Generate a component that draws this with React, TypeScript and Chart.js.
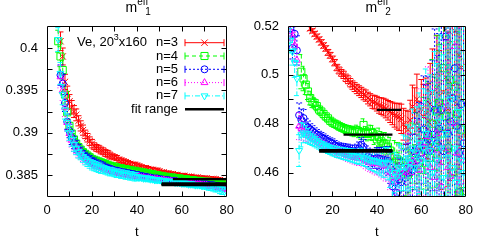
import React, { useEffect, useRef } from "react";
import { Chart, registerables } from "chart.js";
Chart.register(...registerables);

const FONT = "'Liberation Sans', Arial, Helvetica, sans-serif";

// ---------- axes ----------
const T_LABELS = [0, 20, 40, 60, 80];
const T_TICKS = [10, 20, 30, 40, 50, 60, 70];
const L_Y_LABELS = [0.385, 0.39, 0.395, 0.4];
const L_Y_TICKS = [0.385, 0.3875, 0.39, 0.3925, 0.395, 0.3975, 0.4];
const R_Y_LABELS = [0.46, 0.48, 0.5, 0.52];
const R_Y_TICKS = [0.46, 0.47, 0.48, 0.49, 0.5, 0.51];
const L_Y_RANGE = [0.3824, 0.4026];
const R_Y_RANGE = [0.45, 0.52];

// ---------- legend ----------
const KEY_TITLE = ["Ve, 20", "3", "x160"];
const LEGEND_LABELS = ["n=3", "n=4", "n=5", "n=6", "n=7"];
const FIT_LABEL = "fit range";
const TITLE_SUBS = ["1", "2"];

// ---------- left panel: m_eff_1 ----------
const L_N3_T0 = 6;
const L_N3 = [
  0.4008, 0.3990, 0.3960, 0.3946, 0.3937, 0.3930, 0.3925, 0.3921, 0.3914, 0.3908,
  0.3903, 0.3898, 0.3894, 0.3890, 0.3887, 0.3884, 0.3882, 0.3881, 0.3879, 0.3878,
  0.3876, 0.3875, 0.3873, 0.3872, 0.3871, 0.3870, 0.3868, 0.3867, 0.3866, 0.3865,
  0.3864, 0.3863, 0.3862, 0.3862, 0.3861, 0.3860, 0.3859, 0.3858, 0.3858, 0.3857,
  0.3856, 0.3856, 0.3855, 0.3855, 0.3854, 0.3853, 0.3853, 0.3852, 0.3852, 0.3851,
  0.3851, 0.3850, 0.3850, 0.3849, 0.3849, 0.3849, 0.3848, 0.3848, 0.3848, 0.3847,
  0.3847, 0.3847, 0.3846, 0.3846, 0.3846, 0.3846, 0.3845, 0.3845, 0.3845, 0.3845,
  0.3844, 0.3844, 0.3843, 0.3842,
];
const L_N3_ERR = [
  0.0011, 0.0010, 0.0009, 0.0009, 0.0008, 0.0008, 0.0007, 0.0007, 0.0006, 0.0006,
  0.0006, 0.0005, 0.0005, 0.0005, 0.0005, 0.0004, 0.0004, 0.0004, 0.0004, 0.0004,
  0.0004, 0.0004, 0.0004, 0.0003, 0.0003, 0.0003, 0.0003, 0.0003, 0.0003, 0.0003,
  0.0003, 0.0003, 0.0003, 0.0003, 0.0003, 0.0003, 0.0003, 0.0003, 0.0003, 0.0003,
  0.0003, 0.0003, 0.0003, 0.0003, 0.0003, 0.00025, 0.00025, 0.00025, 0.00025, 0.00025,
  0.00025, 0.00025, 0.00025, 0.00025, 0.00025, 0.00025, 0.00025, 0.00025, 0.00025, 0.00025,
  0.00025, 0.00025, 0.00025, 0.00025, 0.00025, 0.00025, 0.00025, 0.00025, 0.00025, 0.00025,
  0.00025, 0.00025, 0.00025, 0.00025,
];
const L_N4_T0 = 5;
const L_N4 = [
  0.4008, 0.3990, 0.3974, 0.3945, 0.3924, 0.3908, 0.3899, 0.3892, 0.3887, 0.3883,
  0.3880, 0.3877, 0.3875, 0.3873, 0.3871, 0.3869, 0.3868, 0.3867, 0.3866, 0.3865,
  0.3864, 0.3863, 0.3862, 0.3861, 0.3860, 0.3860, 0.3859, 0.3858, 0.3858, 0.3857,
  0.3857, 0.3856, 0.3856, 0.3855, 0.3855, 0.3854, 0.3854, 0.3853, 0.3853, 0.3852,
  0.3852, 0.3851, 0.3851, 0.3850, 0.3850, 0.3849, 0.3849, 0.3848, 0.3848, 0.3847,
  0.3847, 0.3847, 0.3846, 0.3846, 0.3846, 0.3845, 0.3845, 0.3845, 0.3844, 0.3844,
  0.3844, 0.3843, 0.3843, 0.3843, 0.3842, 0.3842, 0.3842, 0.3842, 0.3841, 0.3841,
  0.3841, 0.3840, 0.3840, 0.3839, 0.3838,
];
const L_N4_ERR = [
  0.0013, 0.0012, 0.0011, 0.0010, 0.0009, 0.0008, 0.0008, 0.0007, 0.0006, 0.0006,
  0.0005, 0.0005, 0.0005, 0.0005, 0.0005, 0.0005, 0.0004, 0.0004, 0.0004, 0.0004,
  0.0004, 0.0004, 0.0004, 0.0004, 0.0004, 0.0004, 0.0003, 0.0003, 0.0003, 0.0003,
  0.0003, 0.0003, 0.0003, 0.0003, 0.0003, 0.0003, 0.0003, 0.0003, 0.0003, 0.0003,
  0.0003, 0.0003, 0.0003, 0.0003, 0.0003, 0.0003, 0.0003, 0.0003, 0.0003, 0.0003,
  0.0003, 0.0003, 0.0003, 0.0003, 0.0003, 0.0003, 0.0003, 0.0003, 0.0003, 0.0003,
  0.0003, 0.0003, 0.0003, 0.0003, 0.0003, 0.0003, 0.0003, 0.0003, 0.0003, 0.0003,
  0.0003, 0.0003, 0.0003, 0.0003, 0.0003,
];
const L_N5_T0 = 6;
const L_N5 = [
  0.3968, 0.3958, 0.3935, 0.3913, 0.3902, 0.3894, 0.3888, 0.3884, 0.3880, 0.3877,
  0.3874, 0.3872, 0.3870, 0.3868, 0.3866, 0.3865, 0.3863, 0.3862, 0.3861, 0.3860,
  0.3859, 0.3858, 0.3857, 0.3856, 0.3855, 0.3855, 0.3854, 0.3853, 0.3853, 0.3852,
  0.3852, 0.3851, 0.3851, 0.3850, 0.3850, 0.3849, 0.3849, 0.3848, 0.3848, 0.3847,
  0.3847, 0.3846, 0.3846, 0.3846, 0.3845, 0.3845, 0.3844, 0.3844, 0.3844, 0.3843,
  0.3843, 0.3843, 0.3842, 0.3842, 0.3842, 0.3841, 0.3841, 0.3841, 0.3840, 0.3840,
  0.3840, 0.3840, 0.3839, 0.3839, 0.3839, 0.3839, 0.3838, 0.3838, 0.3838, 0.3837,
  0.3837, 0.3836, 0.3836, 0.3835,
];
const L_N5_ERR = [
  0.0012, 0.0011, 0.0010, 0.0009, 0.0008, 0.0008, 0.0007, 0.0007, 0.0006, 0.0006,
  0.0005, 0.0005, 0.0005, 0.0005, 0.0005, 0.0005, 0.0005, 0.0005, 0.0005, 0.0005,
  0.0004, 0.0004, 0.0004, 0.0004, 0.0004, 0.0004, 0.0004, 0.0004, 0.0004, 0.0004,
  0.0004, 0.0004, 0.0004, 0.0004, 0.0004, 0.0003, 0.0003, 0.0003, 0.0003, 0.0003,
  0.0003, 0.0003, 0.0003, 0.0003, 0.0003, 0.0003, 0.0003, 0.0003, 0.0003, 0.0003,
  0.0003, 0.0003, 0.0003, 0.0003, 0.0003, 0.0003, 0.0003, 0.0003, 0.0003, 0.0003,
  0.0003, 0.0003, 0.0003, 0.0003, 0.0003, 0.0003, 0.0003, 0.0003, 0.0003, 0.0003,
  0.0003, 0.0003, 0.0003, 0.0003,
];
const L_N6_T0 = 6;
const L_N6 = [
  0.3966, 0.3950, 0.3930, 0.3912, 0.3899, 0.3891, 0.3886, 0.3882, 0.3878, 0.3875,
  0.3872, 0.3869, 0.3867, 0.3865, 0.3863, 0.3862, 0.3861, 0.3860, 0.3859, 0.3858,
  0.3857, 0.3856, 0.3855, 0.3855, 0.3854, 0.3853, 0.3853, 0.3852, 0.3851, 0.3851,
  0.3850, 0.3850, 0.3849, 0.3849, 0.3848, 0.3848, 0.3847, 0.3847, 0.3846, 0.3846,
  0.3846, 0.3845, 0.3845, 0.3845, 0.3844, 0.3844, 0.3844, 0.3843, 0.3843, 0.3843,
  0.3842, 0.3842, 0.3842, 0.3841, 0.3841, 0.3841, 0.3840, 0.3840, 0.3840, 0.3839,
  0.3839, 0.3839, 0.3839, 0.3838, 0.3838, 0.3838, 0.3837, 0.3837, 0.3837, 0.3836,
  0.3836, 0.3835, 0.3835, 0.3834,
];
const L_N6_ERR = [
  0.0013, 0.0012, 0.0011, 0.0010, 0.0009, 0.0008, 0.0008, 0.0007, 0.0007, 0.0006,
  0.0006, 0.0005, 0.0005, 0.0005, 0.0005, 0.0005, 0.0005, 0.0005, 0.0005, 0.0005,
  0.0004, 0.0004, 0.0004, 0.0004, 0.0004, 0.0004, 0.0004, 0.0004, 0.0004, 0.0004,
  0.0004, 0.0004, 0.0004, 0.0004, 0.0004, 0.0004, 0.0003, 0.0003, 0.0003, 0.0003,
  0.0003, 0.0003, 0.0003, 0.0003, 0.0003, 0.0003, 0.0003, 0.0003, 0.0003, 0.0003,
  0.0003, 0.0003, 0.0003, 0.0003, 0.0003, 0.0003, 0.0003, 0.0003, 0.0003, 0.0003,
  0.0003, 0.0003, 0.0003, 0.0003, 0.0003, 0.0003, 0.0003, 0.0003, 0.0003, 0.0004,
  0.0004, 0.0004, 0.0004, 0.0004,
];
const L_N7_T0 = 5;
const L_N7 = [
  0.4010, 0.3970, 0.3945, 0.3927, 0.3912, 0.3900, 0.3892, 0.3886, 0.3881, 0.3877,
  0.3874, 0.3871, 0.3868, 0.3866, 0.3864, 0.3862, 0.3861, 0.3860, 0.3859, 0.3858,
  0.3857, 0.3856, 0.3855, 0.3854, 0.3854, 0.3853, 0.3852, 0.3852, 0.3851, 0.3851,
  0.3850, 0.3850, 0.3849, 0.3849, 0.3848, 0.3848, 0.3847, 0.3847, 0.3846, 0.3846,
  0.3846, 0.3845, 0.3845, 0.3844, 0.3844, 0.3844, 0.3843, 0.3843, 0.3843, 0.3842,
  0.3842, 0.3842, 0.3841, 0.3841, 0.3841, 0.3840, 0.3840, 0.3840, 0.3839, 0.3839,
  0.3839, 0.3838, 0.3838, 0.3838, 0.3837, 0.3837, 0.3837, 0.3836, 0.3836, 0.3836,
  0.3835, 0.3835, 0.3834, 0.3833, 0.3831,
];
const L_N7_ERR = [
  0.0014, 0.0013, 0.0012, 0.0011, 0.0010, 0.0009, 0.0008, 0.0008, 0.0007, 0.0007,
  0.0006, 0.0006, 0.0006, 0.0006, 0.0006, 0.0006, 0.0006, 0.0006, 0.0006, 0.0006,
  0.0005, 0.0005, 0.0005, 0.0005, 0.0005, 0.0005, 0.0005, 0.0005, 0.0005, 0.0005,
  0.0005, 0.0005, 0.0005, 0.0005, 0.0005, 0.0005, 0.0003, 0.0003, 0.0003, 0.0003,
  0.0003, 0.0003, 0.0003, 0.0003, 0.0003, 0.0003, 0.0003, 0.0003, 0.0003, 0.0003,
  0.0003, 0.0003, 0.0003, 0.0003, 0.0003, 0.0003, 0.0003, 0.0003, 0.0003, 0.0003,
  0.0003, 0.0003, 0.0003, 0.0003, 0.0003, 0.0003, 0.0004, 0.0004, 0.0004, 0.0005,
  0.0005, 0.0005, 0.0006, 0.0006, 0.0007,
];
const L_FITS = [
  { t1: 56, t2: 80, v: 0.3845 },
  { t1: 51, t2: 80, v: 0.3840 },
  { t1: 51, t2: 80, v: 0.3839 },
  { t1: 51, t2: 80, v: 0.3839 },
  { t1: 51, t2: 80, v: 0.3838 },
];

// ---------- right panel: m_eff_2 ----------
const R_N3_T0 = 10;
const R_N3 = [
  0.5190, 0.5180, 0.5168, 0.5157, 0.5145, 0.5133, 0.5120, 0.5108, 0.5092, 0.5080,
  0.5065, 0.5050, 0.5030, 0.5018, 0.5008, 0.5000, 0.4988, 0.4980, 0.4968, 0.4958,
  0.4950, 0.4942, 0.4935, 0.4928, 0.4920, 0.4915, 0.4905, 0.4898, 0.4890, 0.4888,
  0.4882, 0.4875, 0.4872, 0.4868, 0.4862, 0.4855, 0.4848, 0.4842, 0.4835, 0.4830,
  0.4828, 0.4820, 0.4798, 0.4785, 0.4776, 0.4815, 0.4870, 0.4852, 0.4900, 0.4780,
  0.4860, 0.4830, 0.4845, 0.4810, 0.4880, 0.4925, 0.4805, 0.4950, 0.4870, 0.4780,
  0.4930, 0.4990, 0.4860, 0.4910, 0.4960, 0.5180, 0.4880, 0.5080, 0.5030, 0.4750,
];
const R_N3_ERR = [
  0.0009, 0.0009, 0.0010, 0.0010, 0.0010, 0.0011, 0.0011, 0.0011, 0.0012, 0.0012,
  0.0012, 0.0013, 0.0013, 0.0014, 0.0014, 0.0015, 0.0015, 0.0016, 0.0017, 0.0017,
  0.0018, 0.0019, 0.0020, 0.0021, 0.0022, 0.0023, 0.0024, 0.0025, 0.0027, 0.0028,
  0.0030, 0.0032, 0.0034, 0.0036, 0.0038, 0.0040, 0.0043, 0.0046, 0.0049, 0.0052,
  0.0056, 0.0060, 0.0065, 0.0070, 0.0075, 0.0081, 0.0088, 0.0095, 0.0103, 0.0112,
  0.0121, 0.0131, 0.0142, 0.0154, 0.0167, 0.0181, 0.0196, 0.0212, 0.0230, 0.0249,
  0.0270, 0.0292, 0.0316, 0.0342, 0.0370, 0.0400, 0.0433, 0.0468, 0.0506, 0.0547,
];
const R_N4_T0 = 6;
const R_N4 = [
  0.5013, 0.4985, 0.4960, 0.4932, 0.4905, 0.4890, 0.4885, 0.4872, 0.4858, 0.4850,
  0.4840, 0.4830, 0.4822, 0.4812, 0.4805, 0.4800, 0.4796, 0.4790, 0.4786, 0.4782,
  0.4778, 0.4776, 0.4773, 0.4770, 0.4768, 0.4772, 0.4766, 0.4760, 0.4795, 0.4762,
  0.4758, 0.4765, 0.4762, 0.4748, 0.4736, 0.4745, 0.4728, 0.4720, 0.4718, 0.4706,
  0.4690, 0.4632, 0.4668, 0.4655, 0.4648, 0.4640, 0.4612, 0.4600, 0.4592, 0.4630,
  0.4680, 0.4665, 0.4700, 0.4640, 0.4610, 0.4720, 0.4690, 0.4750, 0.4660, 0.4800,
  0.4705, 0.4850, 0.4886, 0.4760, 0.5027, 0.4830, 0.4700, 0.4980, 0.4600, 0.4952,
  0.4840, 0.4518, 0.4776, 0.4524,
];
const R_N4_ERR = [
  0.0070, 0.0050, 0.0040, 0.0033, 0.0028, 0.0024, 0.0021, 0.0019, 0.0018, 0.0017,
  0.0016, 0.0015, 0.0015, 0.0015, 0.0015, 0.0015, 0.0016, 0.0016, 0.0017, 0.0017,
  0.0018, 0.0018, 0.0019, 0.0020, 0.0021, 0.0022, 0.0023, 0.0024, 0.0025, 0.0026,
  0.0028, 0.0029, 0.0031, 0.0033, 0.0035, 0.0037, 0.0040, 0.0043, 0.0046, 0.0050,
  0.0054, 0.0058, 0.0063, 0.0068, 0.0074, 0.0080, 0.0087, 0.0095, 0.0104, 0.0113,
  0.0123, 0.0134, 0.0146, 0.0159, 0.0173, 0.0188, 0.0205, 0.0223, 0.0242, 0.0263,
  0.0286, 0.0310, 0.0336, 0.0364, 0.0394, 0.0426, 0.0460, 0.0497, 0.0536, 0.0578,
  0.0620, 0.0660, 0.0700, 0.0750,
];
const R_N5_T0 = 1;
const R_N5 = [
  0.5190, 0.5110, 0.5168, 0.5100, 0.4835, 0.4816, 0.4823, 0.4790, 0.4785, 0.4776,
  0.4770, 0.4762, 0.4756, 0.4750, 0.4745, 0.4740, 0.4734, 0.4728, 0.4724, 0.4720,
  0.4712, 0.4706, 0.4702, 0.4700, 0.4698, 0.4695, 0.4694, 0.4690, 0.4688, 0.4686,
  0.4690, 0.4698, 0.4715, 0.4705, 0.4678, 0.4667, 0.4660, 0.4654, 0.4656, 0.4660,
  0.4658, 0.4655, 0.4652, 0.4650, 0.4648, 0.4620, 0.4544, 0.4560, 0.4517, 0.4571,
  0.4560, 0.4590, 0.4605, 0.4598, 0.4625, 0.4612, 0.4687, 0.4650, 0.4700, 0.4680,
  0.4776, 0.4720, 0.4735, 0.4690, 0.4755, 0.4857, 0.4720, 0.4780, 0.4857, 0.4687,
  0.5157, 0.4760, 0.4810, 0.4905, 0.5027, 0.4790, 0.4680, 0.4880, 0.4720,
];
const R_N5_ERR = [
  0.0040, 0.0045, 0.0050, 0.0060, 0.0050, 0.0045, 0.0035, 0.0030, 0.0026, 0.0024,
  0.0022, 0.0021, 0.0020, 0.0019, 0.0019, 0.0018, 0.0018, 0.0018, 0.0018, 0.0018,
  0.0019, 0.0019, 0.0020, 0.0020, 0.0021, 0.0022, 0.0022, 0.0023, 0.0024, 0.0025,
  0.0026, 0.0027, 0.0028, 0.0030, 0.0031, 0.0033, 0.0035, 0.0037, 0.0039, 0.0042,
  0.0045, 0.0048, 0.0051, 0.0055, 0.0059, 0.0064, 0.0069, 0.0075, 0.0081, 0.0088,
  0.0095, 0.0103, 0.0112, 0.0122, 0.0133, 0.0145, 0.0158, 0.0172, 0.0187, 0.0203,
  0.0220, 0.0239, 0.0259, 0.0281, 0.0305, 0.0331, 0.0359, 0.0389, 0.0421, 0.0456,
  0.0494, 0.0535, 0.0579, 0.0626, 0.0677, 0.0732, 0.0791, 0.0854, 0.0922,
];
const R_N6_T0 = 1;
const R_N6 = [
  0.5178, 0.5150, 0.5120, 0.5060, 0.4790, 0.4782, 0.4770, 0.4760, 0.4752, 0.4746,
  0.4740, 0.4736, 0.4730, 0.4724, 0.4718, 0.4712, 0.4706, 0.4700, 0.4697, 0.4694,
  0.4690, 0.4686, 0.4682, 0.4680, 0.4678, 0.4674, 0.4670, 0.4668, 0.4665, 0.4662,
  0.4660, 0.4658, 0.4662, 0.4656, 0.4650, 0.4646, 0.4642, 0.4640, 0.4638, 0.4636,
  0.4640, 0.4634, 0.4630, 0.4626, 0.4630, 0.4600, 0.4560, 0.4590, 0.4580, 0.4620,
  0.4600, 0.4585, 0.4610, 0.4626, 0.4600, 0.4650, 0.4640, 0.4687, 0.4610, 0.4720,
  0.4660, 0.4700, 0.4748, 0.4620, 0.4690, 0.4580, 0.4760, 0.4640, 0.4544, 0.4700,
  0.4871, 0.4620, 0.4585, 0.4800, 0.5116, 0.4680, 0.4560, 0.5225, 0.4650,
];
const R_N6_ERR = [
  0.0045, 0.0050, 0.0055, 0.0065, 0.0055, 0.0048, 0.0038, 0.0032, 0.0028, 0.0026,
  0.0024, 0.0023, 0.0022, 0.0021, 0.0020, 0.0020, 0.0019, 0.0019, 0.0019, 0.0020,
  0.0020, 0.0021, 0.0021, 0.0022, 0.0023, 0.0023, 0.0024, 0.0025, 0.0026, 0.0027,
  0.0028, 0.0029, 0.0031, 0.0032, 0.0034, 0.0036, 0.0038, 0.0040, 0.0043, 0.0046,
  0.0049, 0.0052, 0.0056, 0.0060, 0.0065, 0.0070, 0.0076, 0.0082, 0.0089, 0.0096,
  0.0104, 0.0113, 0.0123, 0.0134, 0.0146, 0.0159, 0.0173, 0.0188, 0.0205, 0.0223,
  0.0242, 0.0263, 0.0285, 0.0309, 0.0335, 0.0364, 0.0395, 0.0428, 0.0463, 0.0501,
  0.0543, 0.0588, 0.0637, 0.0689, 0.0745, 0.0805, 0.0870, 0.0940, 0.1014,
];
const R_N7_T0 = 1;
const R_N7 = [
  0.5140, 0.5095, 0.5050, 0.4985, 0.4690, 0.4755, 0.4762, 0.4758, 0.4750, 0.4742,
  0.4736, 0.4730, 0.4724, 0.4718, 0.4712, 0.4706, 0.4702, 0.4698, 0.4694, 0.4690,
  0.4688, 0.4684, 0.4682, 0.4680, 0.4678, 0.4676, 0.4674, 0.4672, 0.4670, 0.4668,
  0.4666, 0.4664, 0.4668, 0.4662, 0.4660, 0.4656, 0.4652, 0.4650, 0.4648, 0.4646,
  0.4644, 0.4640, 0.4638, 0.4642, 0.4636, 0.4610, 0.4570, 0.4600, 0.4585, 0.4620,
  0.4605, 0.4640, 0.4625, 0.4660, 0.4640, 0.4700, 0.4620, 0.4680, 0.4720, 0.4650,
  0.4700, 0.4760, 0.4640, 0.4690, 0.4600, 0.4730, 0.4650, 0.4810, 0.4700, 0.4580,
  0.4760, 0.4660, 0.4900, 0.4620, 0.4700, 0.4560, 0.4850, 0.4650, 0.4600,
];
const R_N7_ERR = [
  0.0050, 0.0055, 0.0060, 0.0070, 0.0065, 0.0050, 0.0040, 0.0034, 0.0030, 0.0027,
  0.0025, 0.0024, 0.0023, 0.0022, 0.0021, 0.0021, 0.0020, 0.0020, 0.0020, 0.0021,
  0.0021, 0.0022, 0.0022, 0.0023, 0.0024, 0.0024, 0.0025, 0.0026, 0.0027, 0.0028,
  0.0029, 0.0030, 0.0032, 0.0033, 0.0035, 0.0037, 0.0039, 0.0041, 0.0044, 0.0047,
  0.0050, 0.0053, 0.0057, 0.0061, 0.0066, 0.0071, 0.0077, 0.0083, 0.0090, 0.0097,
  0.0105, 0.0114, 0.0124, 0.0135, 0.0147, 0.0160, 0.0174, 0.0189, 0.0206, 0.0224,
  0.0243, 0.0264, 0.0286, 0.0310, 0.0336, 0.0365, 0.0396, 0.0429, 0.0464, 0.0502,
  0.0544, 0.0589, 0.0638, 0.0690, 0.0746, 0.0806, 0.0871, 0.0941, 0.1015,
];
const R_FITS = [
  { t1: 40, t2: 51, v: 0.4857 },
  { t1: 25, t2: 47, v: 0.4755 },
  { t1: 14, t2: 47, v: 0.4692 },
  { t1: 14, t2: 47, v: 0.4686 },
  { t1: 15, t2: 47, v: 0.4689 },
];

// ---------- styles ----------
const STYLES = [
  { color: "#ff0000", point: "crossRot", radius: 4.5, rot: 0, dash: [] as number[] },
  { color: "#00ff00", point: "rect", radius: 5, rot: 0, dash: [4, 3] },
  { color: "#0000ff", point: "circle", radius: 3.5, rot: 0, dash: [2, 2] },
  { color: "#ff00ff", point: "triangle", radius: 4, rot: 0, dash: [1, 2] },
  { color: "#00ffff", point: "triangle", radius: 4, rot: 180, dash: [5, 2, 1, 2] },
];

function drawMarker(ctx: CanvasRenderingContext2D, st: any, x: number, y: number) {
  ctx.save();
  ctx.strokeStyle = st.color;
  ctx.lineWidth = 1;
  ctx.setLineDash([]);
  ctx.beginPath();
  const r = st.radius;
  if (st.point === "crossRot") {
    const o = r * Math.SQRT1_2;
    ctx.moveTo(x - o, y - o); ctx.lineTo(x + o, y + o);
    ctx.moveTo(x + o, y - o); ctx.lineTo(x - o, y + o);
  } else if (st.point === "rect") {
    const s = r * Math.SQRT1_2;
    ctx.rect(x - s, y - s, 2 * s, 2 * s);
  } else if (st.point === "circle") {
    ctx.arc(x, y, r, 0, Math.PI * 2);
  } else {
    let rad = (st.rot * Math.PI) / 180;
    for (let k = 0; k < 3; k++) {
      const px = x + Math.sin(rad) * r, py = y - Math.cos(rad) * r;
      if (k === 0) ctx.moveTo(px, py); else ctx.lineTo(px, py);
      rad += (2 * Math.PI) / 3;
    }
    ctx.closePath();
  }
  ctx.stroke();
  ctx.restore();
}

const errorBarPlugin = {
  id: "errbars",
  beforeDatasetDraw(chart: any, args: any) {
    const ds: any = chart.data.datasets[args.index];
    if (!ds.errs) return;
    const { ctx, chartArea: a } = chart;
    const ys = chart.scales.y;
    ctx.save();
    ctx.beginPath();
    ctx.rect(a.left, a.top, a.right - a.left, a.bottom - a.top);
    ctx.clip();
    ctx.strokeStyle = ds.borderColor;
    ctx.lineWidth = 1;
    ctx.setLineDash(ds.errDash);
    args.meta.data.forEach((el: any, i: number) => {
      const e = ds.errs[i];
      if (e == null) return;
      const v = ds.data[i].y;
      const x = el.x;
      const y1 = ys.getPixelForValue(v + e);
      const y2 = ys.getPixelForValue(v - e);
      ctx.beginPath();
      ctx.moveTo(x, y1); ctx.lineTo(x, y2);
      ctx.moveTo(x - 3, y1); ctx.lineTo(x + 3, y1);
      ctx.moveTo(x - 3, y2); ctx.lineTo(x + 3, y2);
      ctx.stroke();
    });
    ctx.restore();
  },
};

function drawLegend(ctx: CanvasRenderingContext2D) {
  const rowY = (i: number) => 42.7 + 13.3 * i;
  ctx.fillStyle = "#000";
  ctx.textBaseline = "middle";
  ctx.textAlign = "left";
  let x = 77;
  const y0 = rowY(0);
  ctx.font = `13px ${FONT}`;
  ctx.fillText(KEY_TITLE[0], x, y0);
  x += ctx.measureText(KEY_TITLE[0]).width;
  ctx.font = `9px ${FONT}`;
  ctx.fillText(KEY_TITLE[1], x, y0 - 5);
  x += ctx.measureText(KEY_TITLE[1]).width;
  ctx.font = `13px ${FONT}`;
  ctx.fillText(KEY_TITLE[2], x, y0);

  const labels = [...LEGEND_LABELS, FIT_LABEL];
  const x1 = 185, x2 = 224;
  labels.forEach((lab, i) => {
    const y = rowY(i);
    ctx.font = `13px ${FONT}`;
    ctx.textAlign = "right";
    ctx.fillStyle = "#000";
    ctx.fillText(lab, 178, y);
    if (i < STYLES.length) {
      const st = STYLES[i];
      ctx.save();
      ctx.strokeStyle = st.color;
      ctx.lineWidth = 1;
      ctx.setLineDash(st.dash);
      ctx.beginPath();
      ctx.moveTo(x1, y); ctx.lineTo(x2, y);
      ctx.stroke();
      ctx.setLineDash([]);
      ctx.beginPath();
      ctx.moveTo(x1, y - 3.5); ctx.lineTo(x1, y + 3.5);
      ctx.moveTo(x2, y - 3.5); ctx.lineTo(x2, y + 3.5);
      ctx.stroke();
      ctx.restore();
      drawMarker(ctx, st, (x1 + x2) / 2, y);
    } else {
      ctx.save();
      ctx.strokeStyle = "#000";
      ctx.lineWidth = 2.5;
      ctx.beginPath();
      ctx.moveTo(x1, y); ctx.lineTo(x2, y);
      ctx.stroke();
      ctx.restore();
    }
  });
}

const decorPlugin = {
  id: "decor",
  afterDraw(chart: any, _args: any, opts: any) {
    const { ctx, chartArea: a } = chart;
    const xs = chart.scales.x, ys = chart.scales.y;
    ctx.save();
    const L = Math.round(a.left) + 0.5, R = Math.round(a.right) - 0.5;
    const T = Math.round(a.top) + 0.5, B = Math.round(a.bottom) - 0.5;
    ctx.strokeStyle = "#000";
    ctx.lineWidth = 1;
    ctx.setLineDash([]);
    ctx.beginPath();
    ctx.rect(L, T, R - L, B - T);
    for (const t of T_TICKS) {
      const px = Math.round(xs.getPixelForValue(t)) + 0.5;
      ctx.moveTo(px, B); ctx.lineTo(px, B - 5);
      ctx.moveTo(px, T); ctx.lineTo(px, T + 5);
    }
    for (const v of opts.yTicks) {
      const py = Math.round(ys.getPixelForValue(v)) + 0.5;
      ctx.moveTo(L, py); ctx.lineTo(L + 5, py);
      ctx.moveTo(R, py); ctx.lineTo(R - 5, py);
    }
    ctx.stroke();

    // title m^eff_n
    const cx = (a.left + a.right) / 2;
    ctx.fillStyle = "#000";
    ctx.textBaseline = "alphabetic";
    ctx.textAlign = "left";
    ctx.font = `14px ${FONT}`;
    const wm = ctx.measureText("m").width;
    ctx.font = `10px ${FONT}`;
    const we = ctx.measureText("eff").width;
    const tx = cx - (wm + we) / 2;
    ctx.font = `14px ${FONT}`;
    ctx.fillText("m", tx, 12);
    ctx.font = `10px ${FONT}`;
    ctx.fillText("eff", tx + wm, 5);
    ctx.fillText(opts.sub, tx + wm + 8, 15);

    // x axis title
    ctx.font = `13px ${FONT}`;
    ctx.textAlign = "center";
    ctx.fillText("t", cx, 236);

    if (opts.legend) drawLegend(ctx);
    ctx.restore();
  },
};

function fmt(v: any) {
  return String(parseFloat(Number(v).toFixed(4)));
}

function makeConfig(
  series: { t0: number; vals: number[]; errs: number[] }[],
  fits: { t1: number; t2: number; v: number }[],
  yRange: number[],
  yLabels: number[],
  yTicks: number[],
  yW: number,
  padR: number,
  sub: string,
  legend: boolean
): any {
  const datasets: any[] = series.map((s, k) => {
    const st = STYLES[k];
    return {
      label: LEGEND_LABELS[k],
      data: s.vals.map((v, i) => ({ x: s.t0 + i, y: v })),
      errs: s.errs,
      errDash: st.dash,
      borderColor: st.color,
      backgroundColor: "rgba(0,0,0,0)",
      pointStyle: st.point,
      pointRadius: st.radius,
      pointHoverRadius: st.radius,
      pointRotation: st.rot,
      pointBorderWidth: 1,
      showLine: false,
      order: 10 - k,
    };
  });
  fits.forEach((f) =>
    datasets.push({
      label: FIT_LABEL,
      data: [{ x: f.t1, y: f.v }, { x: f.t2, y: f.v }],
      showLine: true,
      borderColor: "#000",
      borderWidth: 2.2,
      pointRadius: 0,
      order: 0,
    })
  );
  return {
    type: "scatter",
    data: { datasets },
    plugins: [errorBarPlugin, decorPlugin],
    options: {
      animation: false,
      responsive: false,
      devicePixelRatio: 1,
      events: [],
      layout: { padding: { top: 26, right: padR, left: 0, bottom: 0 } },
      plugins: {
        legend: { display: false },
        tooltip: { enabled: false },
        decor: { sub, legend, yTicks },
      },
      scales: {
        x: {
          type: "linear",
          min: 0,
          max: 80,
          grid: { display: false, drawTicks: false },
          border: { display: false },
          afterFit: (s: any) => { s.height = 43; },
          afterBuildTicks: (s: any) => { s.ticks = T_LABELS.map((v) => ({ value: v })); },
          ticks: {
            font: { family: FONT, size: 13 },
            color: "#000",
            padding: 6,
            maxRotation: 0,
            autoSkip: false,
            callback: (v: any) => String(v),
          },
        },
        y: {
          type: "linear",
          min: yRange[0],
          max: yRange[1],
          grid: { display: false, drawTicks: false },
          border: { display: false },
          afterFit: (s: any) => { s.width = yW; },
          afterBuildTicks: (s: any) => { s.ticks = yLabels.map((v) => ({ value: v })); },
          ticks: {
            font: { family: FONT, size: 13 },
            color: "#000",
            padding: 9,
            autoSkip: false,
            callback: (v: any) => fmt(v),
          },
        },
      },
    },
  };
}

export default function App() {
  const lRef = useRef<HTMLCanvasElement>(null);
  const rRef = useRef<HTMLCanvasElement>(null);
  useEffect(() => {
    const left = new Chart(
      lRef.current as HTMLCanvasElement,
      makeConfig(
        [
          { t0: L_N3_T0, vals: L_N3, errs: L_N3_ERR },
          { t0: L_N4_T0, vals: L_N4, errs: L_N4_ERR },
          { t0: L_N5_T0, vals: L_N5, errs: L_N5_ERR },
          { t0: L_N6_T0, vals: L_N6, errs: L_N6_ERR },
          { t0: L_N7_T0, vals: L_N7, errs: L_N7_ERR },
        ],
        L_FITS, L_Y_RANGE, L_Y_LABELS, L_Y_TICKS, 47, 8, TITLE_SUBS[0], true
      )
    );
    const right = new Chart(
      rRef.current as HTMLCanvasElement,
      makeConfig(
        [
          { t0: R_N3_T0, vals: R_N3, errs: R_N3_ERR },
          { t0: R_N4_T0, vals: R_N4, errs: R_N4_ERR },
          { t0: R_N5_T0, vals: R_N5, errs: R_N5_ERR },
          { t0: R_N6_T0, vals: R_N6, errs: R_N6_ERR },
          { t0: R_N7_T0, vals: R_N7, errs: R_N7_ERR },
        ],
        R_FITS, R_Y_RANGE, R_Y_LABELS, R_Y_TICKS, 48, 7, TITLE_SUBS[1], false
      )
    );
    return () => {
      left.destroy();
      right.destroy();
    };
  }, []);
  return (
    <div style={{ position: "absolute", left: 0, top: 0, width: 479, height: 240, background: "#fff" }}>
      <canvas ref={lRef} width={240} height={240} style={{ position: "absolute", left: 0, top: 0 }} />
      <canvas ref={rRef} width={239} height={240} style={{ position: "absolute", left: 240, top: 0 }} />
    </div>
  );
}
